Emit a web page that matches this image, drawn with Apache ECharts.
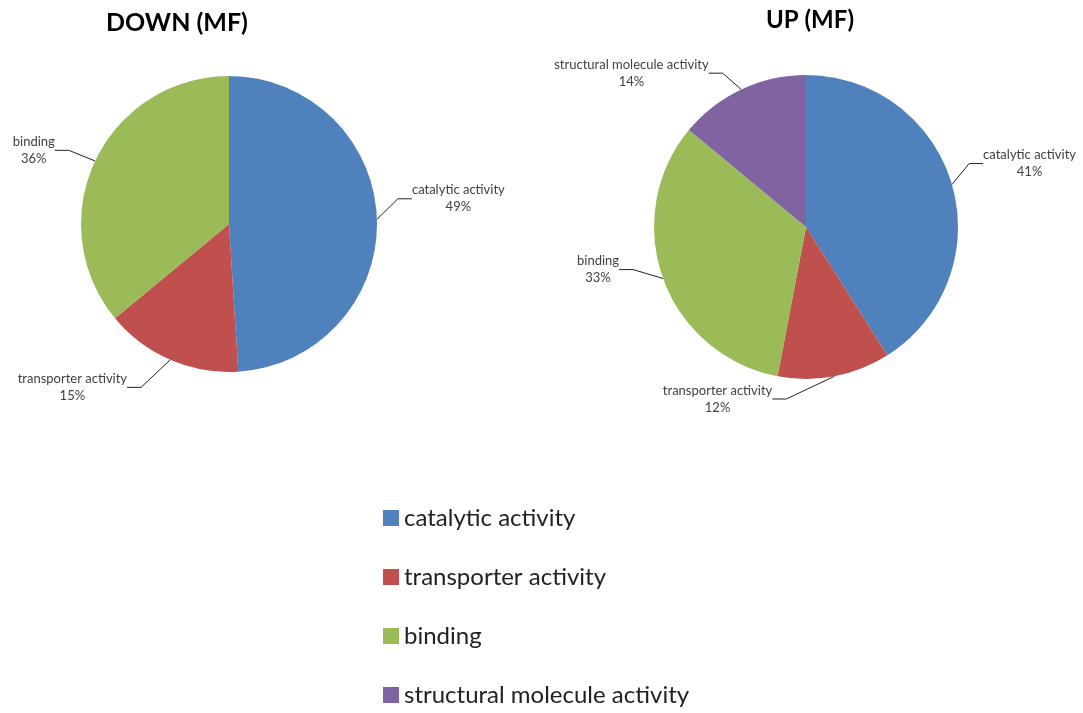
<!DOCTYPE html>
<html>
<head>
<meta charset="utf-8">
<script src="https://cdn.jsdelivr.net/npm/echarts@6/dist/echarts.min.js"></script>
<style>
html,body{margin:0;padding:0;background:#fff;}
#c{width:1083px;height:713px;}
</style>
</head>
<body>
<div id="c"></div>
<script>
// ---- data ----
const categories = ['catalytic activity', 'transporter activity', 'binding', 'structural molecule activity'];
const downCategories = ['catalytic activity', 'transporter activity', 'binding'];
const downValues = [49, 15, 36];
const upCategories = ['catalytic activity', 'transporter activity', 'binding', 'structural molecule activity'];
const upValues = [41, 12, 33, 14];
const titles = ['DOWN (MF)', 'UP (MF)'];
const palette = ['#4F81BD', '#C0504D', '#9BBB59', '#8064A2'];

const FONT = 'Lato';

function makeData(names, values) {
  return names.map((n, i) => ({
    name: n,
    value: values[i],
    itemStyle: { color: palette[categories.indexOf(n)] }
  }));
}

const labelCfg = {
  show: true,
  position: 'outside',
  formatter: '{n|{b}}\n{n|{d}%}',
  color: '#404040',
  fontFamily: FONT,
  fontSize: 13,
  overflow: 'none',
  rich: { n: { align: 'center', fontFamily: FONT, fontSize: 13, color: '#404040', lineHeight: 17 } }
};
const lineCfg = { show: true, length: 18, length2: 14, lineStyle: { color: '#222', width: 1 } };

// nudges of the outside labels relative to ECharts' own placement (layout only)
const labelNudge = [
  { 'catalytic activity': [-2, -22], 'transporter activity': [-17, 9], 'binding': [-5, -5] },
  { 'catalytic activity': [3, -18], 'transporter activity': [-194, 3], 'binding': [-8, -17], 'structural molecule activity': [-6, -2] }
];
const seriesNames = [downCategories, upCategories];

function nudge(si) {
  return p => {
    const d = labelNudge[si][seriesNames[si][p.dataIndex]] || [0, 0];
    const r = p.labelRect;
    return { x: r.x + d[0], y: r.y + d[1], align: 'left', verticalAlign: 'top' };
  };
}

const chart = echarts.init(document.getElementById('c'), null, { renderer: 'canvas' });
chart.setOption({
  animation: false,
  color: palette,
  title: [
    { text: titles[0], left: 172, top: 5, textAlign: 'center',
      textStyle: { fontFamily: FONT, fontSize: 25, fontWeight: 'bold', color: '#000' } },
    { text: titles[1], left: 805, top: 3, textAlign: 'center',
      textStyle: { fontFamily: FONT, fontSize: 24, fontWeight: 'bold', color: '#000' } }
  ],
  legend: {
    orient: 'vertical',
    left: 378,
    top: 501,
    height: 212,
    itemWidth: 16,
    itemHeight: 16,
    itemGap: 35,
    icon: 'rect',
    data: categories,
    selectedMode: false,
    textStyle: { fontFamily: FONT, fontSize: 24, color: '#222' }
  },
  series: [
    {
      type: 'pie',
      center: [229, 224],
      radius: 148,
      startAngle: 90,
      clockwise: true,
      data: makeData(downCategories, downValues),
      label: labelCfg,
      labelLine: lineCfg,
      labelLayout: nudge(0),
      itemStyle: { borderWidth: 0 },
      emphasis: { disabled: true }
    },
    {
      type: 'pie',
      center: [806, 227],
      radius: 152,
      startAngle: 90,
      clockwise: true,
      data: makeData(upCategories, upValues),
      label: labelCfg,
      labelLine: lineCfg,
      labelLayout: nudge(1),
      itemStyle: { borderWidth: 0 },
      emphasis: { disabled: true }
    }
  ]
});
</script>
</body>
</html>
